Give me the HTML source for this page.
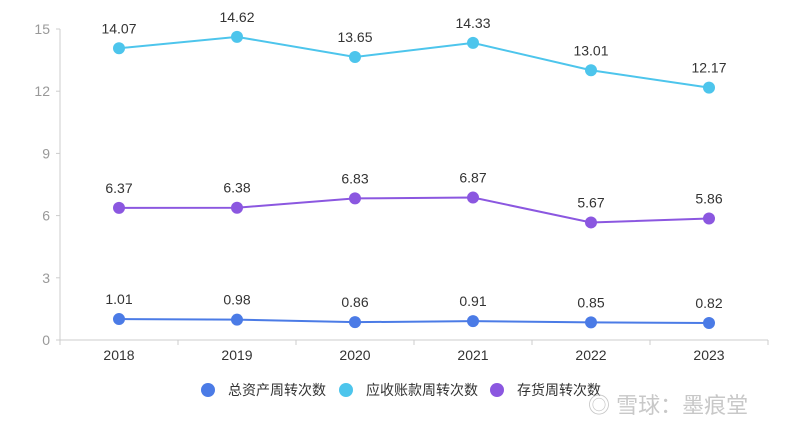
<!DOCTYPE html>
<html><head><meta charset="utf-8"><style>
body{margin:0;background:#fff;}
svg{display:block;font-family:"Liberation Sans","Noto Sans CJK SC",sans-serif;}
</style></head><body>
<svg id="chart" width="800" height="436" viewBox="0 0 800 436"></svg>
<script>
const categories=["2018","2019","2020","2021","2022","2023"];
const totalAssetTurnover=[1.01,0.98,0.86,0.91,0.85,0.82];
const receivableTurnover=[14.07,14.62,13.65,14.33,13.01,12.17];
const inventoryTurnover=[6.37,6.38,6.83,6.87,5.67,5.86];
const yTicks=[0,3,6,9,12,15];
const seriesNames=["总资产周转次数","应收账款周转次数","存货周转次数"];
const NS="http://www.w3.org/2000/svg";
const svg=document.getElementById('chart');
const L=60,R=768,T=29,B=340,yMax=15;
const bw=(R-L)/categories.length;
function x(i){return L+bw*(i+0.5);}
function y(v){return B-(v/yMax)*(B-T);}
function mk(tag,attrs,parent){const e=document.createElementNS(NS,tag);for(const k in attrs)e.setAttribute(k,attrs[k]);(parent||svg).appendChild(e);return e;}
const ya=mk('line',{x1:L,y1:T,x2:L,y2:B,stroke:'#ccc'});


const xa=mk('line',{x1:L,y1:B,x2:R,y2:B,stroke:'#ccc'});


yTicks.forEach(t=>{
  mk('line',{x1:L-4,y1:y(t),x2:L,y2:y(t),stroke:'#ccc'});
  const tx=mk('text',{x:L-10,y:y(t)+5,'text-anchor':'end','font-size':14,fill:'#999'});
  tx.textContent=t;
  
  
});
for(let i=0;i<=categories.length;i++){mk('line',{x1:L+bw*i,y1:B,x2:L+bw*i,y2:B+5,stroke:'#ccc'});}
categories.forEach((c,i)=>{
  const tx=mk('text',{x:x(i),y:B+20,'text-anchor':'middle','font-size':14,fill:'#333'});
  tx.textContent=c;
  
  
});
const series=[[totalAssetTurnover,'#4b7be6'],[receivableTurnover,'#4dc5ec'],[inventoryTurnover,'#8b57e0']];
series.forEach(([vals,col],s)=>{
  const g=mk('g',{});
  
  
  const p=mk('polyline',{points:vals.map((v,i)=>x(i)+','+y(v)).join(' '),fill:'none',stroke:col,'stroke-width':2},g);
  
  
  vals.forEach((v,i)=>{
    const c=mk('circle',{cx:x(i),cy:y(v),r:6,fill:col},g);
    
    
    const t=mk('text',{x:x(i),y:y(v)-15,'text-anchor':'middle','font-size':14,fill:'#333'},g);
    t.textContent=v.toFixed(2);
    
    
  });
});
const lx=[208,346,497];
seriesNames.forEach((n,i)=>{
  const c=mk('circle',{cx:lx[i],cy:390,r:7,fill:series[i][1]});
  
  
  const t=mk('text',{x:lx[i]+20,y:395,'font-size':14,fill:'#333'});
  t.textContent=n;
  
  
});
const wm=mk('text',{x:588,y:413,'font-size':22,fill:'#c8c8c8'});
wm.textContent='◎ 雪球：墨痕堂';


</script>
</body></html>
